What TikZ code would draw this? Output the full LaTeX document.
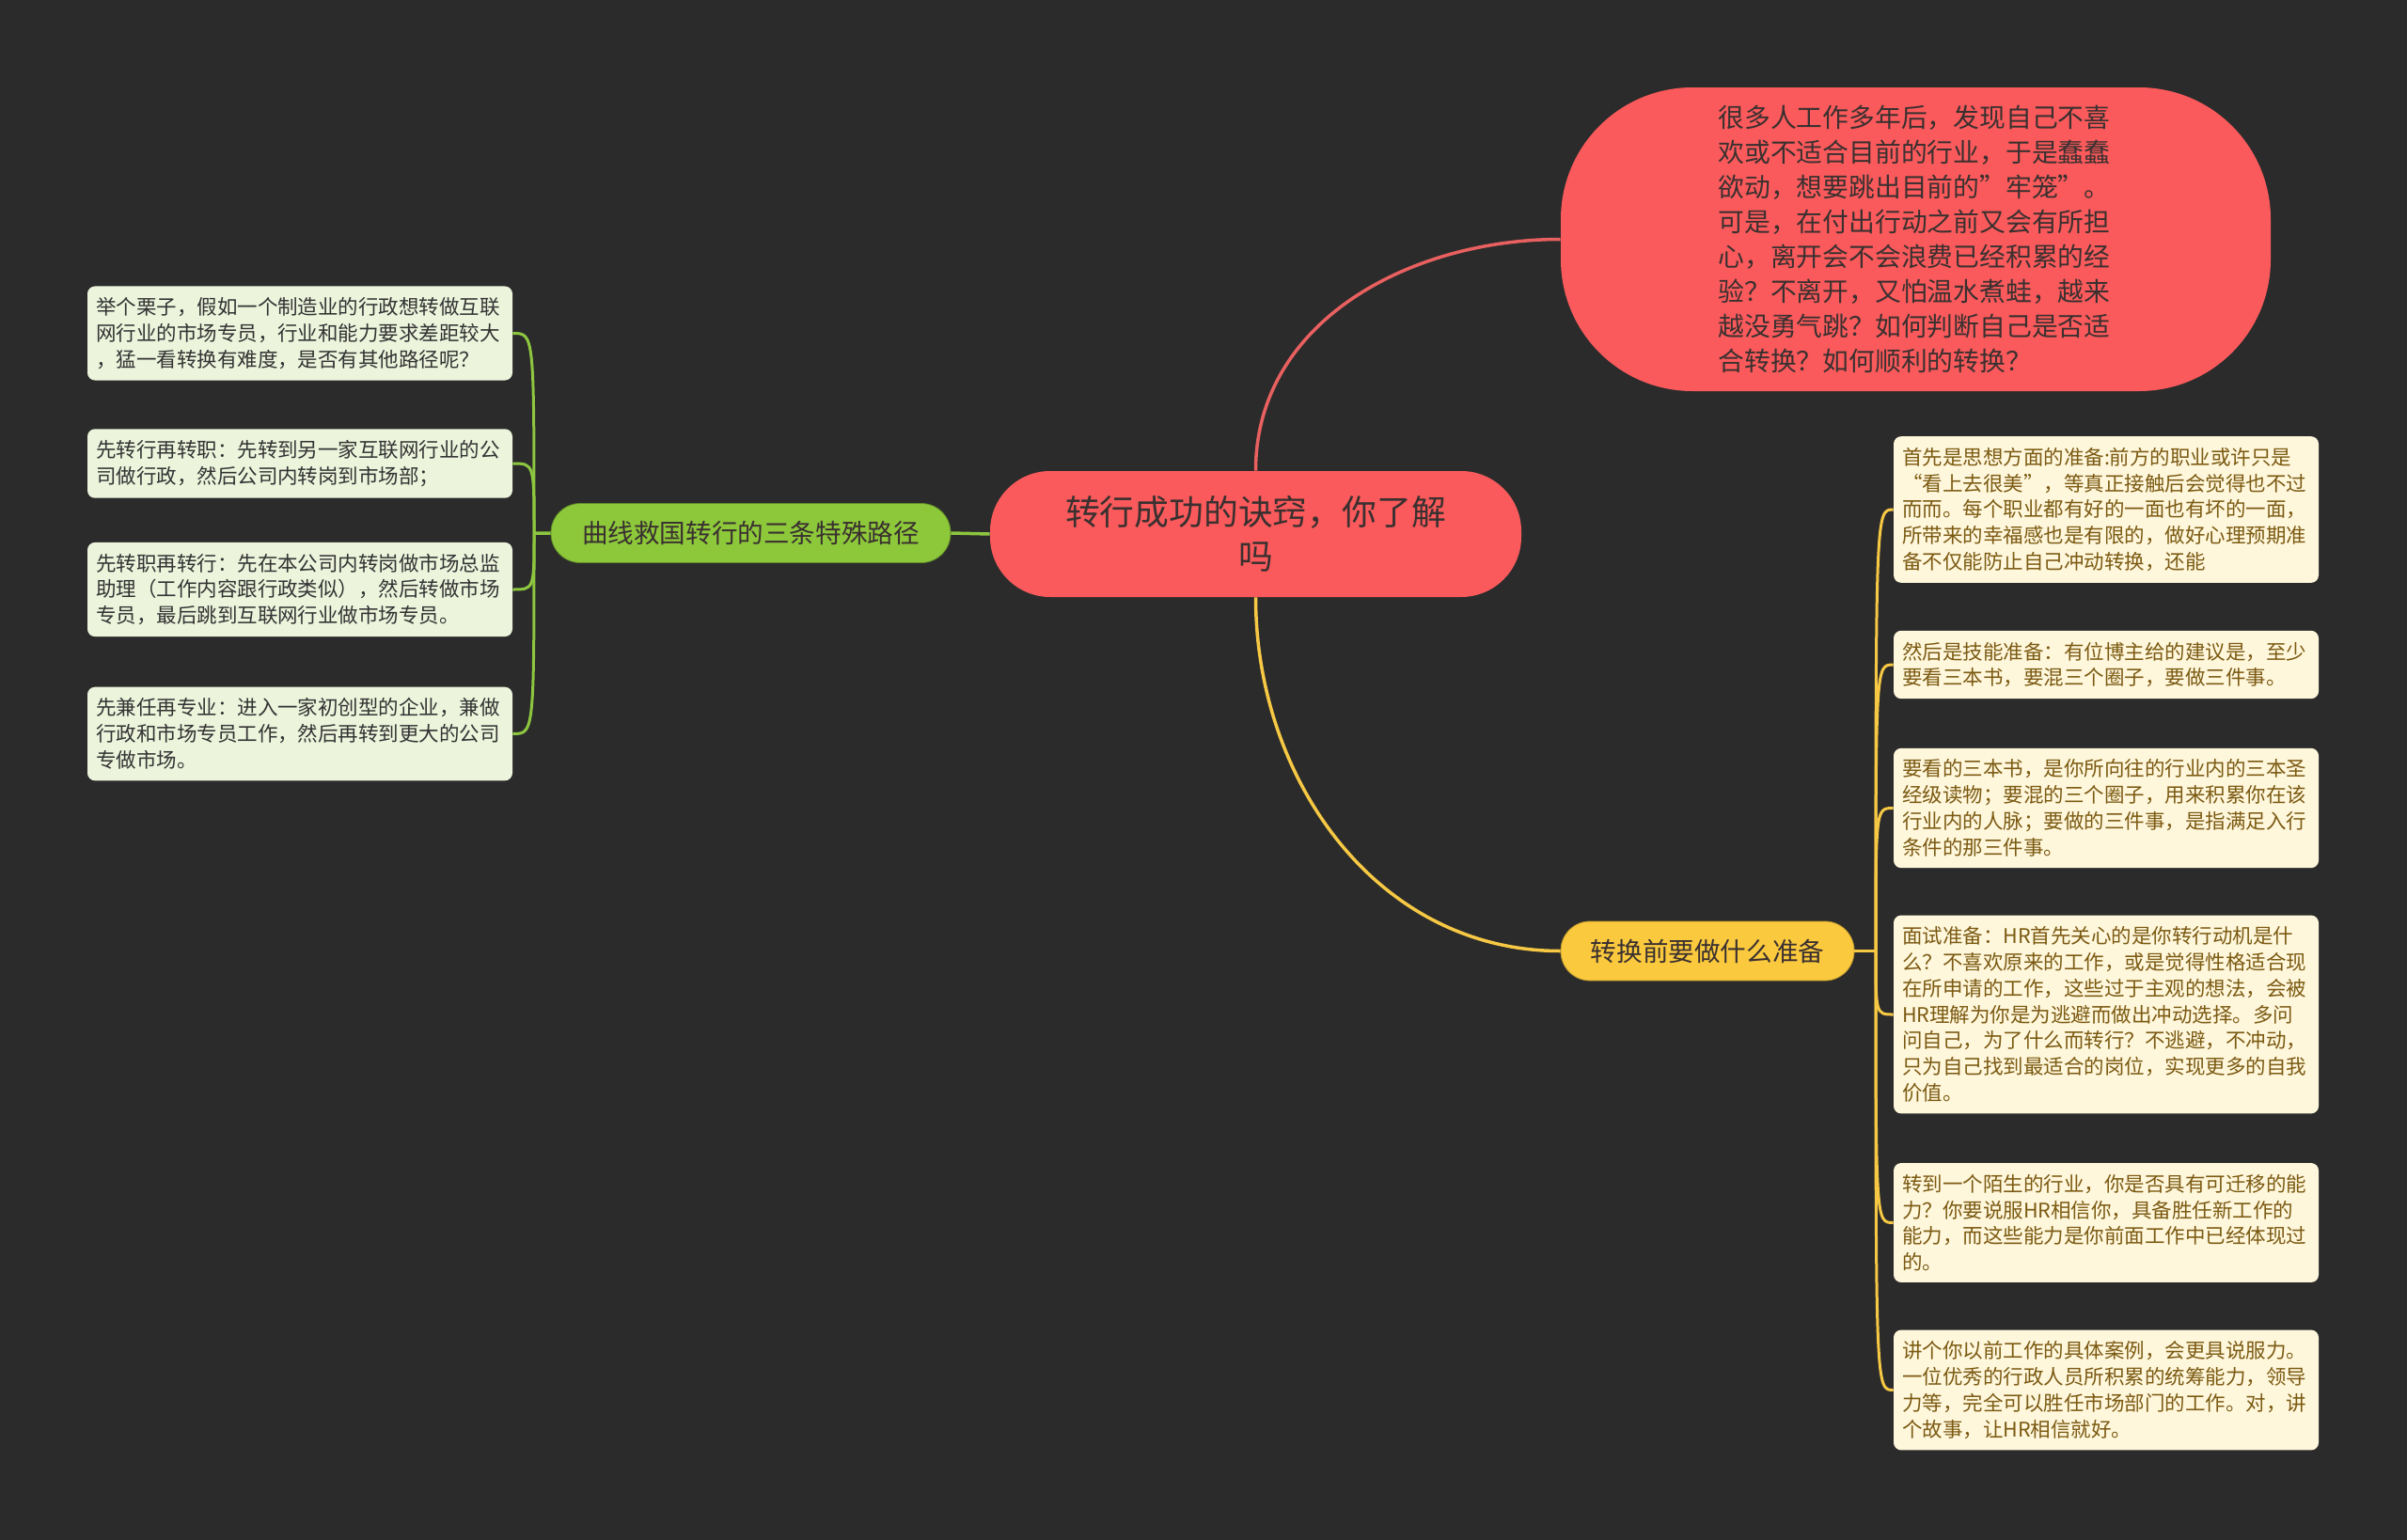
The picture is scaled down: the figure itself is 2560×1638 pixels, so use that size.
\documentclass[tikz,border=0pt]{standalone}
\usepackage{fontspec}
\setmainfont{Noto Sans CJK SC}
\usepackage{tikz}
\definecolor{bgc}{HTML}{2B2B2B}
\definecolor{redc}{HTML}{FA5A5B}
\definecolor{redl}{HTML}{E8605F}
\definecolor{greenc}{HTML}{8CC83A}
\definecolor{greenl}{HTML}{8DC63F}
\definecolor{yellowc}{HTML}{FBC93D}
\definecolor{yellowl}{HTML}{F6C844}
\definecolor{gfill}{HTML}{ECF4DC}
\definecolor{yfill}{HTML}{FFF7DC}
\definecolor{darktext}{HTML}{3A3030}
\definecolor{ytext}{HTML}{7B5A12}

\begin{document}
\begin{tikzpicture}[x=0.5pt,y=-0.5pt,
    leaf/.style={rectangle,rounded corners=4pt,inner xsep=4.5pt,inner ysep=6pt,
        text width=217pt,align=left,font=\fontsize{10.75}{13.9}\selectfont},
    gleaf/.style={leaf,fill=gfill,text=black!80},
    yleaf/.style={leaf,fill=yfill,text=ytext},
    pill/.style={rectangle,rounded corners=15.5pt,minimum height=31.5pt,inner sep=0pt,
        text=darktext,font=\fontsize{13.8}{17}\selectfont},
    rline/.style={draw=redl,line width=1.75pt},
    gline/.style={draw=greenl,line width=1.75pt},
    yline/.style={draw=yellowl,line width=1.75pt}]
    \fill[bgc] (0,0) rectangle (2560,1638);
    \node[rectangle,rounded corners=32pt,fill=redc,minimum width=282.5pt,minimum height=67pt,
        align=center,text=darktext,font=\fontsize{18.4}{23.7}\selectfont]
        (root) at (1335.5,568) {转行成功的诀窍，你了解\\吗};
    \node[rectangle,rounded corners=70pt,fill=redc,minimum width=377.5pt,minimum height=161.5pt,
        text width=210pt,align=left,text=darktext,font=\fontsize{13.9}{18.5}\selectfont]
        (intro) at (2037.5,254.5) {很多人工作多年后，发现自己不喜\\欢或不适合目前的行业，于是蠢蠢\\欲动，想要跳出目前的”牢笼”。\\可是，在付出行动之前又会有所担\\心，离开会不会浪费已经积累的经\\验？不离开，又怕温水煮蛙，越来\\越没勇气跳？如何判断自己是否适\\合转换？如何顺利的转换？};
    \node[pill,fill=greenc,draw=greenc!70!black,minimum width=212.5pt] (paths) at (798.5,567) {曲线救国转行的三条特殊路径};
    \node[pill,fill=yellowc,draw=yellowc!75!black,minimum width=156pt] (prep) at (1816,1011.5) {转换前要做什么准备};

    \node[gleaf] (l1) at (319,354.5) {举个栗子，假如一个制造业的行政想转做互联\\网行业的市场专员，行业和能力要求差距较大\\，猛一看转换有难度，是否有其他路径呢？};
    \node[gleaf] (l2) at (319,493) {先转行再转职：先转到另一家互联网行业的公\\司做行政，然后公司内转岗到市场部；};
    \node[gleaf] (l3) at (319,627) {先转职再转行：先在本公司内转岗做市场总监\\助理（工作内容跟行政类似），然后转做市场\\专员，最后跳到互联网行业做市场专员。};
    \node[gleaf] (l4) at (319,780.5) {先兼任再专业：进入一家初创型的企业，兼做\\行政和市场专员工作，然后再转到更大的公司\\专做市场。};

    \node[yleaf] (r1) at (2240,542) {首先是思想方面的准备:前方的职业或许只是\\“看上去很美”，等真正接触后会觉得也不过\\而而。每个职业都有好的一面也有坏的一面，\\所带来的幸福感也是有限的，做好心理预期准\\备不仅能防止自己冲动转换，还能};
    \node[yleaf] (r2) at (2240,707) {然后是技能准备：有位博主给的建议是，至少\\要看三本书，要混三个圈子，要做三件事。};
    \node[yleaf] (r3) at (2240,859.5) {要看的三本书，是你所向往的行业内的三本圣\\经级读物；要混的三个圈子，用来积累你在该\\行业内的人脉；要做的三件事，是指满足入行\\条件的那三件事。};
    \node[yleaf] (r4) at (2240,1079) {面试准备：HR首先关心的是你转行动机是什\\么？不喜欢原来的工作，或是觉得性格适合现\\在所申请的工作，这些过于主观的想法，会被\\HR理解为你是为逃避而做出冲动选择。多问\\问自己，为了什么而转行？不逃避，不冲动，\\只为自己找到最适合的岗位，实现更多的自我\\价值。};
    \node[yleaf] (r5) at (2240,1300.5) {转到一个陌生的行业，你是否具有可迁移的能\\力？你要说服HR相信你，具备胜任新工作的\\能力，而这些能力是你前面工作中已经体现过\\的。};
    \node[yleaf] (r6) at (2240,1478.5) {讲个你以前工作的具体案例，会更具说服力。\\一位优秀的行政人员所积累的统筹能力，领导\\力等，完全可以胜任市场部门的工作。对，讲\\个故事，让HR相信就好。};

    \coordinate (gj) at (568,567);
    \coordinate (yj) at (1995,1011.5);
    \draw[rline] (root.north) to[out=90,in=180] (intro.west);
    \draw[yline] (root.south) to[out=-90,in=180] (prep.west);
    \draw[gline] (root.west) -- (paths.east) (paths.west) -- (gj);
    \draw[yline] (prep.east) -- (yj);
    \foreach \n in {l1,l2,l3,l4}
        \draw[gline,line width=1.5pt] (gj) .. controls (gj |- \n.east) and (gj |- \n.east) .. (\n.east);
    \foreach \n in {r1,r2,r3,r4,r5,r6}
        \draw[yline,line width=1.5pt] (yj) .. controls (yj |- \n.west) and (yj |- \n.west) .. (\n.west);
\end{tikzpicture}
\end{document}
